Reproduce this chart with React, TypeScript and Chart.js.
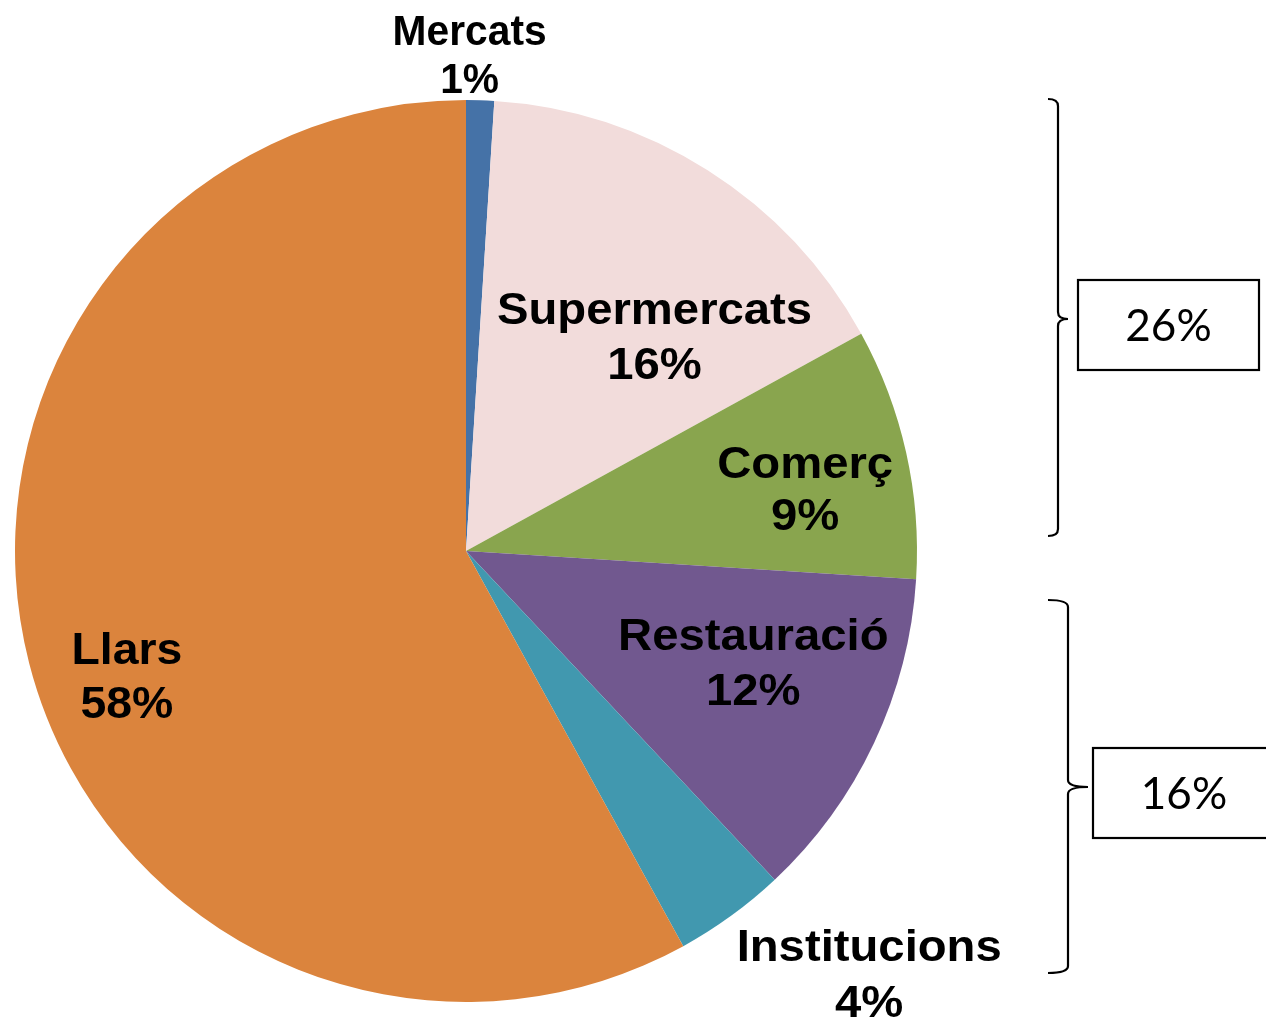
import React, { useEffect, useRef } from "react";
import { Chart, registerables } from "chart.js";

Chart.register(...registerables);

const categories = ["Mercats", "Supermercats", "Comerç", "Restauració", "Institucions", "Llars"];
const shares = [1, 16, 9, 12, 4, 58];
const sliceColors = ["#4572A7", "#F2DCDB", "#89A54E", "#71588F", "#4198AF", "#DB843D"];

// label placement: offset from pie centre as a fraction of the radius
const labelDx = [0.008, 0.418, 0.752, 0.637, 0.894, -0.752];
const labelDy = [-1.094, -0.469, -0.132, 0.253, 0.944, 0.282];
const labelLineGap = [48, 55, 52, 55, 56, 54];
const labelFontPx = [42, 45, 45, 45, 45, 45];
const labelStretch = [0.97, 1.05, 1.05, 1.05, 1.05, 1.03];

// grouped totals shown in the boxes on the right
const groupLabels = ["26%", "16%"];

const labelsPlugin = {
  id: "sliceLabels",
  afterDatasetsDraw(chart: any) {
    const ctx = chart.ctx;
    const meta = chart.getDatasetMeta(0);
    const arc0 = meta.data[0];
    const cx = arc0.x;
    const cy = arc0.y;
    const r = arc0.outerRadius;
    ctx.save();
    ctx.fillStyle = "#000";
    ctx.textAlign = "center";
    ctx.textBaseline = "middle";
    meta.data.forEach((_arc: any, i: number) => {
      const x = cx + labelDx[i] * r;
      const y = cy + labelDy[i] * r;
      const lines = [categories[i], `${shares[i]}%`];
      ctx.font = `bold ${labelFontPx[i]}px "Liberation Sans", Arial, sans-serif`;
      lines.forEach((t, k) => {
        const ly = y + (k === 0 ? -labelLineGap[i] / 2 : labelLineGap[i] / 2);
        ctx.save();
        ctx.translate(x, ly);
        ctx.scale(labelStretch[i], 1);
        ctx.fillText(t, 0, 0);
        ctx.restore();
      });
    });
    ctx.restore();
  },
};

function drawBrace(ctx: CanvasRenderingContext2D, xLeft: number, xV: number, xTip: number, yTop: number, yMid: number, yBot: number) {
  const c = 7;
  ctx.beginPath();
  ctx.moveTo(xLeft, yTop);
  ctx.quadraticCurveTo(xV, yTop, xV, yTop + c);
  ctx.lineTo(xV, yMid - c);
  ctx.quadraticCurveTo(xV, yMid, xTip, yMid);
  ctx.quadraticCurveTo(xV, yMid, xV, yMid + c);
  ctx.lineTo(xV, yBot - c);
  ctx.quadraticCurveTo(xV, yBot, xLeft, yBot);
  ctx.stroke();
}

const annotationPlugin = {
  id: "groupBraces",
  afterDraw(chart: any) {
    const ctx = chart.ctx as CanvasRenderingContext2D;
    ctx.save();
    ctx.strokeStyle = "#000";
    ctx.lineWidth = 2.2;
    drawBrace(ctx, 1048, 1058, 1068, 99, 319, 536);
    drawBrace(ctx, 1048, 1068, 1088, 600, 787, 973);
    const boxes = [
      { x: 1078, y: 280, w: 181, h: 90 },
      { x: 1093, y: 748, w: 190, h: 90 },
    ];
    ctx.font = `44px Lato, "Open Sans", sans-serif`;
    ctx.textAlign = "center";
    ctx.textBaseline = "middle";
    boxes.forEach((b, i) => {
      ctx.fillStyle = "#fff";
      ctx.fillRect(b.x, b.y, b.w, b.h);
      ctx.strokeRect(b.x, b.y, b.w, b.h);
      ctx.fillStyle = "#000";
      const tx = i === 0 ? b.x + b.w / 2 : b.x + 91;
      ctx.fillText(groupLabels[i], tx, b.y + b.h / 2 + 2);
    });
    ctx.restore();
  },
};

export default function App() {
  const ref = useRef<HTMLCanvasElement | null>(null);
  useEffect(() => {
    if (!ref.current) return;
    const chart = new Chart(ref.current, {
      type: "pie",
      data: {
        labels: categories,
        datasets: [
          {
            data: shares,
            backgroundColor: sliceColors,
            borderWidth: 0,
          },
        ],
      },
      options: {
        responsive: false,
        animation: false,
        devicePixelRatio: 1,
        layout: { padding: { left: 15, top: 100, right: 349, bottom: 22 } },
        plugins: {
          legend: { display: false },
          tooltip: { enabled: false },
          title: { display: false },
        },
      },
      plugins: [labelsPlugin, annotationPlugin],
    });
    return () => chart.destroy();
  }, []);
  return (
    <div style={{ position: "absolute", left: 0, top: 0, width: 1266, height: 1024, background: "#fff" }}>
      <canvas ref={ref} width={1266} height={1024} style={{ display: "block" }} />
    </div>
  );
}
